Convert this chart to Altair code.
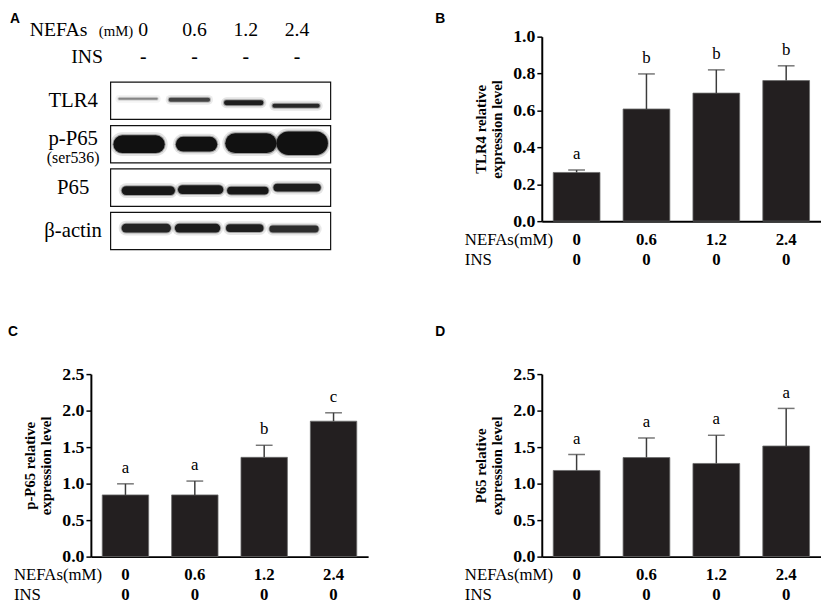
import altair as alt
import pandas as pd

SERIF = "Liberation Serif"
SANS = "Liberation Sans"

# ---------------- data ----------------
nefas = ["0", "0.6", "1.2", "2.4"]
ins_vals = ["0", "0", "0", "0"]
ins_blot = ["-", "-", "-", "-"]

tlr4_mean = [0.264, 0.608, 0.694, 0.762]
tlr4_upper = [0.277, 0.798, 0.820, 0.842]
tlr4_sig = ["a", "b", "b", "b"]

pp65_mean = [0.845, 0.845, 1.36, 1.855]
pp65_upper = [0.997, 1.035, 1.525, 1.970]
pp65_sig = ["a", "a", "b", "c"]

p65_mean = [1.18, 1.357, 1.276, 1.515]
p65_upper = [1.398, 1.625, 1.662, 2.030]
p65_sig = ["a", "a", "a", "a"]

# western blot (panel A): per protein, per lane
proteins = ["TLR4", "p-P65", "P65", "β-actin"]
band_opacity = {
    "TLR4": [0.4, 0.7, 0.92, 0.85],
    "p-P65": [1.0, 1.0, 1.0, 1.0],
    "P65": [0.95, 0.95, 0.95, 0.92],
    "β-actin": [0.88, 0.93, 0.9, 0.82],
}
band_thick = {  # band thickness, px
    "TLR4": [2, 4, 5, 4],
    "p-P65": [18, 15, 20, 24],
    "P65": [9, 9, 8, 8],
    "β-actin": [9, 9, 8, 7],
}
band_halfwidth = {  # half length of band, px
    "TLR4": [20, 21, 20, 24],
    "p-P65": [26, 21, 26, 26],
    "P65": [27, 23, 21, 24],
    "β-actin": [25, 23, 19, 25],
}
band_dx = {  # lane shift, lane units
    "TLR4": [-0.1, -0.1, -0.04, -0.02],
    "p-P65": [-0.08, 0.04, 0.1, 0.1],
    "P65": [0.1, 0.12, 0.04, 0.0],
    "β-actin": [0.06, 0.06, -0.02, -0.06],
}
band_dy = {  # vertical shift, px
    "TLR4": [-2, -1, 2, 5],
    "p-P65": [0, 0, -1, -1],
    "P65": [3, 2, 3, 0],
    "β-actin": [-3, -3, -3, -2],
}

LANE_PX = 52.0
ROW_PX = 44.0


def bar_panel(letter, title, means, uppers, sigs, ymax, step, W, H):
    df = pd.DataFrame({"nefa": nefas, "ins": ins_vals, "mean": means,
                       "upper": uppers, "sig": sigs})
    base = alt.Chart(df)
    xaxis = alt.Axis(title=None, labels=False, ticks=False,
                     domainColor="black", domainWidth=2)
    xscale = alt.Scale(paddingInner=0.331, paddingOuter=0.164)
    x = alt.X("nefa:N", sort=nefas, scale=xscale, axis=xaxis)
    n = int(round(ymax / step))
    tvals = [round(i * step, 2) for i in range(n + 1)]
    yscale = alt.Scale(domain=[0, ymax], nice=False, zero=True)
    yaxis = alt.Axis(values=tvals, format=".1f", title=title,
                     titleFont=SERIF, titleFontSize=15, titleFontWeight="bold",
                     titleColor="black", titlePadding=8, titleLineHeight=17,
                     labelFont=SERIF, labelFontSize=18, labelFontWeight="bold",
                     labelColor="black", labelPadding=2, labelFlush=False,
                     labelOverlap=False,
                     tickSize=5, tickWidth=1.5, tickColor="black",
                     domainColor="black", domainWidth=2, grid=False)
    ym = alt.Y("mean:Q", scale=yscale, axis=yaxis)
    yu = alt.Y("upper:Q", scale=yscale, axis=yaxis)
    bars = base.mark_bar(color="#231f20", stroke="#6b6b6b", strokeWidth=0.8).encode(x=x, y=ym)
    err = base.mark_rule(color="#3c3c3c", strokeWidth=1.5).encode(x=x, y=ym, y2="upper:Q")
    cap = base.mark_tick(orient="horizontal", color="#3c3c3c", thickness=1.5, size=17).encode(
        x=x, y=yu)
    sig = base.mark_text(font=SERIF, fontSize=17, baseline="bottom", dy=-7,
                         color="black").encode(x=x, y=yu, text="sig:N")
    r1, r2 = H + 19, H + 39
    row1 = base.mark_text(font=SERIF, fontSize=17, fontWeight="bold", baseline="middle",
                          color="black").encode(x=x, y=alt.value(r1), text="nefa:N")
    row2 = base.mark_text(font=SERIF, fontSize=17, fontWeight="bold", baseline="middle",
                          color="black").encode(x=x, y=alt.value(r2), text="ins:N")
    labN = alt.Chart(pd.DataFrame({"t": ["NEFAs(mM)"]})).mark_text(
        font=SERIF, fontSize=17, align="left", baseline="middle", color="black").encode(
        x=alt.value(-78), y=alt.value(r1), text="t:N")
    labI = alt.Chart(pd.DataFrame({"t": ["INS"]})).mark_text(
        font=SERIF, fontSize=17, align="left", baseline="middle", color="black").encode(
        x=alt.value(-78), y=alt.value(r2), text="t:N")
    let_y = -25 if H > 186 else -50
    let_x = -108 if letter in ("B", "D") else -84
    let = alt.Chart(pd.DataFrame({"t": [letter]})).mark_text(
        font=SANS, fontSize=14, fontWeight="bold", align="left", baseline="top",
        color="black").encode(x=alt.value(let_x), y=alt.value(let_y), text="t:N")
    return alt.layer(bars, err, cap, sig, row1, row2, labN, labI, let).properties(
        width=W, height=H)


def blot_panel(W, H):
    recs = []
    for r, p in enumerate(proteins):
        for lane in range(4):
            recs.append({
                "protein": p, "row": r, "lane": lane,
                "op": band_opacity[p][lane], "th": band_thick[p][lane],
                "hw": band_halfwidth[p][lane], "dx": band_dx[p][lane],
                "dy": band_dy[p][lane],
            })
    bdf = pd.DataFrame(recs)
    xs = alt.Scale(domain=[-53 / LANE_PX, (W - 53) / LANE_PX], nice=False, zero=False)
    ys = alt.Scale(domain=[-65 / ROW_PX, (H - 65) / ROW_PX], nice=False, zero=False,
                   reverse=True)

    boxes = alt.Chart(pd.DataFrame({"protein": proteins, "row": list(range(4))})).transform_calculate(
        y0="datum.row - 0.43", y1="datum.row + 0.43").mark_rect(
        fill="white", stroke="#111", strokeWidth=1.2).encode(
        x=alt.value(20), x2=alt.value(243),
        y=alt.Y("y0:Q", scale=ys, axis=None), y2="y1:Q")

    bands_base = alt.Chart(bdf).transform_calculate(
        x0=f"datum.lane + datum.dx - max(datum.hw - datum.th / 2, 2) / {LANE_PX}",
        x1=f"datum.lane + datum.dx + max(datum.hw - datum.th / 2, 2) / {LANE_PX}",
        yc=f"datum.row + datum.dy / {ROW_PX}",
        th2="datum.th + 6",
        op2="datum.op * 0.15",
        th3="datum.th + 2",
        op3="datum.op * 0.4",
    )

    def band_layer(th, op, color):
        return bands_base.mark_rule(strokeCap="round", color=color).encode(
            x=alt.X("x0:Q", scale=xs, axis=None), x2="x1:Q",
            y=alt.Y("yc:Q", scale=ys, axis=None),
            size=alt.Size(f"{th}:Q", scale=None, legend=None),
            opacity=alt.Opacity(f"{op}:Q", scale=None, legend=None))

    halo = band_layer("th2", "op2", "#444")
    halo2 = band_layer("th3", "op3", "#333")
    core = band_layer("th", "op", "#111")

    lab_df = pd.DataFrame({"protein": proteins, "row": list(range(4))})
    labs = alt.Chart(lab_df).transform_filter("datum.protein != 'p-P65'").mark_text(
        font=SERIF, fontSize=21, baseline="middle", align="center", color="black").encode(
        x=alt.value(-18), y=alt.Y("row:Q", scale=ys, axis=None), text="protein:N")
    labp = alt.Chart(lab_df).transform_filter("datum.protein == 'p-P65'").mark_text(
        font=SERIF, fontSize=21, baseline="middle", align="center", dy=-5, color="black").encode(
        x=alt.value(-18), y=alt.Y("row:Q", scale=ys, axis=None), text="protein:N")
    labs2 = alt.Chart(lab_df).transform_filter("datum.protein == 'p-P65'").transform_calculate(
        t="'(ser536)'").mark_text(
        font=SERIF, fontSize=16, baseline="middle", align="center", dy=14, color="black").encode(
        x=alt.value(-18), y=alt.Y("row:Q", scale=ys, axis=None), text="t:N")

    lane_df = pd.DataFrame({"lane": list(range(4)), "nefa": nefas, "ins": ins_blot})
    head1 = alt.Chart(lane_df).mark_text(font=SERIF, fontSize=20, baseline="alphabetic",
                                         color="black").encode(
        x=alt.X("lane:Q", scale=xs, axis=None), y=alt.value(-1), text="nefa:N")
    head2 = alt.Chart(lane_df).mark_text(font=SERIF, fontSize=20, fontWeight="bold",
                                         baseline="alphabetic", color="black").encode(
        x=alt.X("lane:Q", scale=xs, axis=None), y=alt.value(27), text="ins:N")
    hN = alt.Chart(pd.DataFrame({"t": ["NEFAs"]})).mark_text(
        font=SERIF, fontSize=20, align="left", baseline="alphabetic", color="black").encode(
        x=alt.value(-62), y=alt.value(-1), text="t:N")
    hM = alt.Chart(pd.DataFrame({"t": ["(mM)"]})).mark_text(
        font=SERIF, fontSize=15, align="left", baseline="alphabetic", color="black").encode(
        x=alt.value(8), y=alt.value(-1), text="t:N")
    hI = alt.Chart(pd.DataFrame({"t": ["INS"]})).mark_text(
        font=SERIF, fontSize=20, align="left", baseline="alphabetic", color="black").encode(
        x=alt.value(-20), y=alt.value(27), text="t:N")
    let = alt.Chart(pd.DataFrame({"t": ["A"]})).mark_text(
        font=SANS, fontSize=14, fontWeight="bold", align="left", baseline="top",
        color="black").encode(x=alt.value(-82), y=alt.value(-25), text="t:N")
    return alt.layer(boxes, halo, halo2, core, labs, labp, labs2, head1, head2, hN, hM,
                     hI, let).properties(width=W, height=H)


A = blot_panel(281, 187)
B = bar_panel("B", ["TLR4 relative", "expression level"], tlr4_mean, tlr4_upper, tlr4_sig,
              1.0, 0.2, 283, 187)
C = bar_panel("C", ["p-P65 relative", "expression level"], pp65_mean, pp65_upper, pp65_sig,
              2.5, 0.5, 281, 185)
D = bar_panel("D", ["P65 relative", "expression level"], p65_mean, p65_upper, p65_sig,
              2.5, 0.5, 283, 185)

chart = alt.concat(A, B, C, D, columns=2, spacing={"row": 155, "column": 176},
                   bounds="flush").properties(
    padding=0, background="white").configure_view(stroke=None).configure_axis(
    labelOverlap=False, labelFlush=False)

chart.save("out.html", embed_options={"renderer": "svg", "actions": False})
